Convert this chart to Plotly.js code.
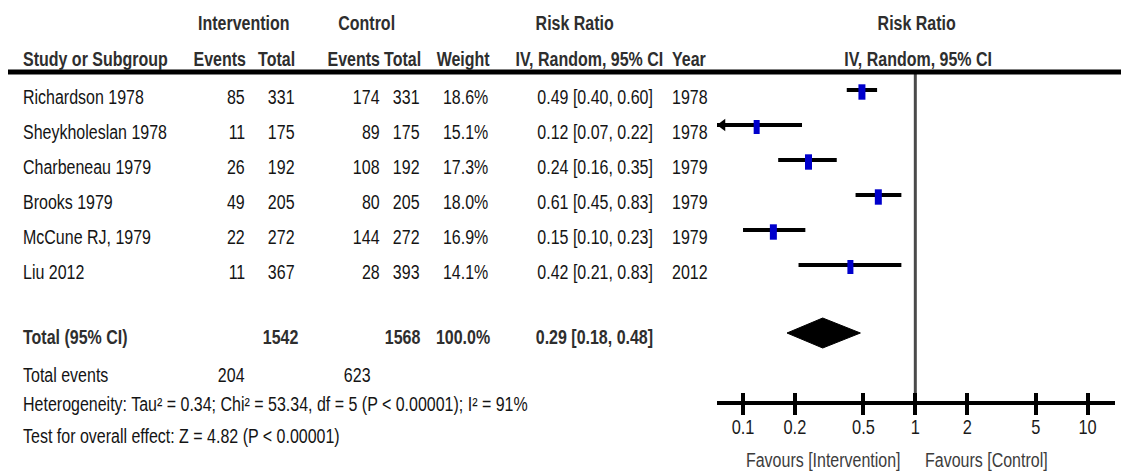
<!DOCTYPE html>
<html>
<head>
<meta charset="utf-8">
<script src="https://cdn.plot.ly/plotly-3.0.1.min.js"></script>
<style>html,body{margin:0;padding:0;background:#fff;}#chart{width:1121px;height:472px;}</style>
</head>
<body>
<div id="chart"></div>
<script>
// ---- data ----
const studies = ["Richardson 1978", "Sheykholeslan 1978", "Charbeneau 1979", "Brooks 1979", "McCune RJ, 1979", "Liu 2012"];
const intEvents = [85, 11, 26, 49, 22, 11];
const intTotal = [331, 175, 192, 205, 272, 367];
const ctrlEvents = [174, 89, 108, 80, 144, 28];
const ctrlTotal = [331, 175, 192, 205, 272, 393];
const weights = [18.6, 15.1, 17.3, 18.0, 16.9, 14.1];
const rr = [0.49, 0.12, 0.24, 0.61, 0.15, 0.42];
const rrLow = [0.40, 0.07, 0.16, 0.45, 0.10, 0.21];
const rrHigh = [0.60, 0.22, 0.35, 0.83, 0.23, 0.83];
const years = [1978, 1978, 1979, 1979, 1979, 2012];
const totalLabel = "Total (95% CI)";
const totalInt = 1542;
const totalCtrl = 1568;
const totalWeight = 100.0;
const totalRR = 0.29;
const totalLow = 0.18;
const totalHigh = 0.48;
const totalEventsInt = 204;
const totalEventsCtrl = 623;
const heterogeneityText = "Heterogeneity: Tau² = 0.34; Chi² = 53.34, df = 5 (P < 0.00001); I² = 91%";
const overallText = "Test for overall effect: Z = 4.82 (P < 0.00001)";
const tickVals = [0.1, 0.2, 0.5, 1, 2, 5, 10];
const tickLabels = ["0.1", "0.2", "0.5", "1", "2", "5", "10"];
const favLeft = "Favours [Intervention]";
const favRight = "Favours [Control]";

// ---- layout helpers (pixel geometry) ----
const W = 1121, H = 472;
const FONT = "'Liberation Sans Narrow', 'Liberation Sans', Arial, sans-serif";
const FS = 19.5;
const NARROW = 0.82;
const px = v => v / W;
const rowText = i => 97 + 35 * i;   // text centre of study rows
const rowMark = i => rowText(i) - 7; // CI line position
const yTotal = 337, yEvents = 375, yHet = 404, yTest = 436;
const yAxisLine = 403, yHeader = 72;
const logMin = -1.151, logMax = 1.159;
const pxPerDecade = 398 / (logMax - logMin);

const ann = [];
function T(text, x, y, anchor, bold, color, size) {
  ann.push({text: bold ? "<b>" + text + "</b>" : text, x: px(x), y: y, xref: "paper", yref: "y",
    xanchor: anchor, yanchor: "middle", showarrow: false,
    font: {family: FONT, size: size || FS, color: color || (bold ? "#2e2e2e" : "#141414")}});
}
const fmt = v => v.toFixed(2);
const ciText = (a, b, c) => fmt(a) + " [" + fmt(b) + ", " + fmt(c) + "]";

// headers
T("Intervention", 244, 23, "center", true);
T("Control", 366, 23, "center", true);
T("Risk Ratio", 574, 23, "center", true);
T("Risk Ratio", 916, 23, "center", true);
T("Study or Subgroup", 21, 59, "left", true);
T("Events", 248, 59, "right", true);
T("Total", 297, 59, "right", true);
T("Events", 382, 59, "right", true);
T("Total", 423, 59, "right", true);
T("Weight", 492, 59, "right", true);
T("IV, Random, 95% CI", 665, 59, "right", true);
T("Year", 670, 59, "left", true);
T("IV, Random, 95% CI", 918, 59, "center", true);

// study rows
studies.forEach((s, i) => {
  const y = rowText(i);
  T(s, 21, y, "left");
  T(String(intEvents[i]), 247, y, "right");
  T(String(intTotal[i]), 297, y, "right");
  T(String(ctrlEvents[i]), 382, y, "right");
  T(String(ctrlTotal[i]), 422, y, "right");
  T(weights[i].toFixed(1) + "%", 490, y, "right");
  T(ciText(rr[i], rrLow[i], rrHigh[i]), 655, y, "right");
  T(String(years[i]), 670, y, "left");
});

// totals
T(totalLabel, 21, yTotal, "left", true);
T(String(totalInt), 301, yTotal, "right", true);
T(String(totalCtrl), 423, yTotal, "right", true);
T(totalWeight.toFixed(1) + "%", 492, yTotal, "right", true);
T(ciText(totalRR, totalLow, totalHigh), 655, yTotal, "right", true);
T("Total events", 21, yEvents, "left");
T(String(totalEventsInt), 247, yEvents, "right");
T(String(totalEventsCtrl), 373, yEvents, "right");
T(heterogeneityText, 21, yHet, "left");
T(overallText, 21, yTest, "left");

// favours labels
T(favLeft, 903, 460, "right", false, "#3c3c3c");
T(favRight, 923, 460, "left", false, "#3c3c3c");

// ---- traces ----
const ciX = [], ciY = [];
rr.forEach((v, i) => { ciX.push(rrLow[i], rrHigh[i], null); ciY.push(rowMark(i), rowMark(i), null); });
const ciTrace = {type: "scatter", mode: "lines", x: ciX, y: ciY, line: {color: "#000", width: 4},
  hoverinfo: "skip", cliponaxis: true};

// arrowheads for CIs running past the left edge of the axis
const ARW = 11;
const axisMinVal = Math.pow(10, logMin);
const clipped = rr.map((v, i) => i).filter(i => rrLow[i] < axisMinVal);
const arrowTrace = {type: "scatter", mode: "markers",
  x: clipped.map(() => Math.pow(10, logMin + (ARW / 2) / pxPerDecade)),
  y: clipped.map(i => rowMark(i)),
  marker: {symbol: "triangle-left", size: ARW, color: "#000", line: {width: 0}},
  hoverinfo: "skip", cliponaxis: false};

const boxTrace = {type: "scatter", mode: "markers", x: rr, y: rr.map((v, i) => rowMark(i) + 2),
  marker: {symbol: "line-ns", color: "#0000CC", opacity: 1,
    size: weights.map(w => Math.round(11 * Math.sqrt(w / 17.5))),
    line: {color: "#0000CC", width: weights.map(w => Math.round(6.8 * Math.sqrt(w / 17.5)))}},
  hoverinfo: "skip", cliponaxis: false};

const dY = yTotal - 4;
const diamond = {type: "scatter", mode: "lines", fill: "toself", fillcolor: "#000",
  x: [totalLow, totalRR, totalHigh, totalRR, totalLow], y: [dY, dY - 15, dY, dY + 15, dY],
  line: {color: "#000", width: 1}, hoverinfo: "skip"};

const axisPos = 1 - yAxisLine / H;
const layout = {
  width: W, height: H, autosize: false,
  margin: {l: 0, r: 0, t: 0, b: 0, pad: 0},
  paper_bgcolor: "#fff", plot_bgcolor: "rgba(0,0,0,0)",
  showlegend: false,
  xaxis: {type: "log", range: [logMin, logMax], domain: [px(717), px(1115)],
    anchor: "free", position: axisPos, showgrid: false, zeroline: false,
    showline: true, linecolor: "#000", linewidth: 4,
    ticks: "outside", ticklen: 10, tickwidth: 4, tickcolor: "#000",
    tickvals: tickVals, ticktext: tickLabels, ticklabelstandoff: -5,
    tickfont: {family: FONT, size: 20, color: "#1a1a1a"}},
  xaxis2: {type: "log", range: [logMin, logMax], domain: [px(717), px(1115)], overlaying: "x",
    anchor: "free", position: axisPos, showgrid: false, zeroline: false, showline: false,
    ticks: "inside", ticklen: 10, tickwidth: 4, tickcolor: "#000",
    tickvals: tickVals, showticklabels: false},
  yaxis: {range: [H, 0], domain: [0, 1], visible: false, showgrid: false, zeroline: false, fixedrange: true},
  shapes: [
    {type: "line", xref: "paper", yref: "y", x0: px(8), x1: 1, y0: yHeader, y1: yHeader,
      line: {color: "#000", width: 5}},
    {type: "line", xref: "x", yref: "y", x0: 1, x1: 1, y0: yHeader, y1: yAxisLine,
      line: {color: "#4a4a4a", width: 3}, layer: "below"}
  ],
  annotations: ann
};

const dummy2 = {type: "scatter", mode: "markers", x: [1], y: [0], xaxis: "x2", yaxis: "y",
  marker: {opacity: 0}, hoverinfo: "skip"};

function svgToCss(tr) {
  if (!tr) return "";
  return tr.replace(/translate\(\s*([-\d.e]+)(?:[\s,]+([-\d.e]+))?\s*\)/g,
    (m, a, b) => "translate(" + a + "px," + (b || 0) + "px)");
}
function squeeze(t, origin) {
  const base = svgToCss(t.getAttribute("transform"));
  t.style.transformBox = "fill-box";
  t.style.transformOrigin = origin;
  t.style.transform = (base ? base + " " : "") + "scaleX(" + NARROW + ")";
}
function condense(gd) {
  const full = gd._fullLayout.annotations;
  gd.querySelectorAll("g.annotation").forEach(g => {
    const a = full[+g.getAttribute("data-index")];
    const t = g.querySelector("text.annotation-text");
    if (!t || !a || !a.text) return;
    squeeze(t, a.xanchor === "left" ? "left center" : a.xanchor === "right" ? "right center" : "center center");
  });
  gd.querySelectorAll("g.xtick text").forEach(t => squeeze(t, "center center"));
}

const gd = document.getElementById("chart");
Plotly.newPlot(gd, [ciTrace, arrowTrace, diamond, boxTrace, dummy2], layout, {displayModeBar: false, staticPlot: true})
  .then(() => condense(gd));
</script>
</body>
</html>
